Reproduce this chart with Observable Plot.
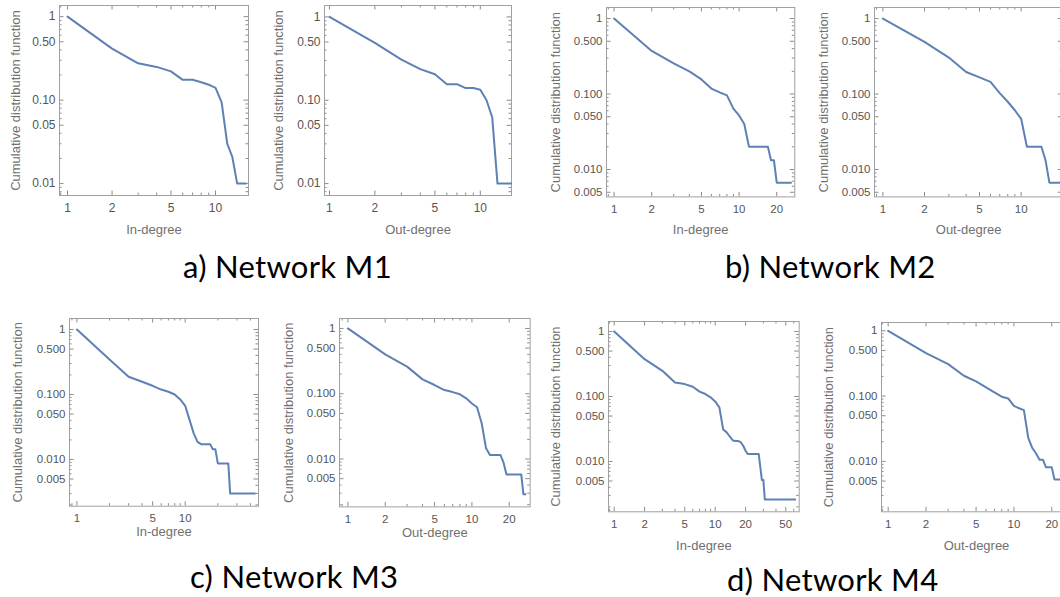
<!DOCTYPE html>
<html>
<head>
<meta charset="utf-8">
<script src="https://cdn.jsdelivr.net/npm/d3@7"></script>
<script src="https://cdn.jsdelivr.net/npm/@observablehq/plot@0.6"></script>
<style>
  html, body { margin: 0; padding: 0; background: #fff; }
  #root { position: relative; width: 1060px; height: 597px; overflow: hidden; background: #fff; }
  #root > svg { position: absolute; overflow: visible; }
  .cap { position: absolute; font-family: Lato, "Open Sans", sans-serif; font-size: 31px; letter-spacing: 0.3px; color: #000; white-space: nowrap; line-height: 1; }
</style>
</head>
<body>
<div id="root"></div>
<script>
// ---------- data ----------
const m1InDeg  = [1, 2, 3, 4, 5, 6, 7, 8, 9, 10, 11, 12, 13, 14, 16];
const m1InCdf  = [1, 0.414, 0.276, 0.25, 0.221, 0.175, 0.175, 0.164, 0.153, 0.14, 0.094, 0.030, 0.0207, 0.010, 0.010];
const m1OutDeg = [1, 2, 3, 4, 5, 6, 7, 8, 9, 10, 11, 12, 13, 16];
const m1OutCdf = [1, 0.487, 0.308, 0.236, 0.205, 0.156, 0.156, 0.14, 0.14, 0.134, 0.10, 0.062, 0.010, 0.010];

const m2InDeg  = [1, 2, 3, 4, 5, 6, 7, 8, 9, 10, 11, 12, 17, 18, 19, 20, 26];
const m2InCdf  = [1, 0.372, 0.254, 0.20, 0.156, 0.118, 0.105, 0.096, 0.064, 0.052, 0.040, 0.020, 0.020, 0.0133, 0.0133, 0.0067, 0.0067];
const m2OutDeg = [1, 2, 3, 4, 5, 6, 7, 8, 9, 10, 11, 14, 15, 16, 19];
const m2OutCdf = [1, 0.49, 0.304, 0.196, 0.166, 0.145, 0.103, 0.079, 0.061, 0.047, 0.020, 0.020, 0.0133, 0.0067, 0.0067];

const m3InDeg  = [1, 2, 3, 4, 5, 6, 7, 8, 9, 10, 11, 12, 13, 14, 17, 18, 19, 20, 25, 26, 44];
const m3InCdf  = [1, 0.346, 0.187, 0.157, 0.136, 0.119, 0.11, 0.10, 0.084, 0.067, 0.040, 0.025, 0.0187, 0.0172, 0.0172, 0.0143, 0.0143, 0.0087, 0.0087, 0.0030, 0.0030];
const m3OutDeg = [1, 2, 3, 4, 5, 6, 7, 8, 9, 10, 11, 12, 13, 14, 17, 18, 19, 25, 26, 27];
const m3OutCdf = [1, 0.40, 0.26, 0.166, 0.136, 0.114, 0.106, 0.098, 0.085, 0.071, 0.062, 0.035, 0.0146, 0.0115, 0.0115, 0.0088, 0.0058, 0.0058, 0.0029, 0.0029];

const m4InDeg  = [1, 2, 3, 4, 5, 6, 7, 8, 9, 10, 11, 12, 13, 14, 15, 16, 17, 18, 19, 20, 21, 27, 28, 29, 30, 31, 62];
const m4InCdf  = [1, 0.375, 0.248, 0.164, 0.155, 0.141, 0.119, 0.109, 0.097, 0.084, 0.068, 0.031, 0.028, 0.024, 0.021, 0.0206, 0.0206, 0.0196, 0.0173, 0.0146, 0.013, 0.013, 0.0081, 0.0052, 0.0052, 0.0026, 0.0026];
const m4OutDeg = [1, 2, 3, 4, 5, 6, 7, 8, 9, 10, 11, 12, 13, 14, 15, 16, 17, 18, 20, 21, 24];
const m4OutCdf = [1, 0.455, 0.309, 0.205, 0.168, 0.136, 0.114, 0.098, 0.092, 0.071, 0.065, 0.061, 0.023, 0.016, 0.0132, 0.0106, 0.0106, 0.0081, 0.0081, 0.0053, 0.0053];

// tick labels
const xTicksA = [1, 2, 5, 10];
const xTicksB = [1, 2, 5, 10, 20];
const xTicksC = [1, 5, 10];
const xTicksD = [1, 2, 5, 10, 20, 50];
const yTicksA = [1, 0.5, 0.1, 0.05, 0.01];
const yLabelsA = ["1", "0.50", "0.10", "0.05", "0.01"];
const yTicksB = [1, 0.5, 0.1, 0.05, 0.01, 0.005];
const yLabelsB = ["1", "0.500", "0.100", "0.050", "0.010", "0.005"];

const yTitle = "Cumulative distribution function";
const captions = ["a) Network M1", "b) Network M2", "c) Network M3", "d) Network M4"];

// ---------- layout per panel ----------
const panels = [
  {deg: m1InDeg,  cdf: m1InCdf,  xl: "In-degree",  frame: [59, 5, 189, 190],      xd: [0.883, 16.7], yd: [0.0072, 1.36], xt: xTicksA, yt: yTicksA, yl: yLabelsA, xOff: 34, yOff: 44, fs: 12},
  {deg: m1OutDeg, cdf: m1OutCdf, xl: "Out-degree", frame: [324.3, 5, 187, 190],   xd: [0.927, 16.1], yd: [0.0072, 1.37], xt: xTicksA, yt: yTicksA, yl: yLabelsA, xOff: 34, yOff: 46, fs: 12},
  {deg: m2InDeg,  cdf: m2InCdf,  xl: "In-degree",  frame: [605.7, 7.3, 188.3, 189.4], xd: [0.87, 27.9], yd: [0.00434, 1.40], xt: xTicksB, yt: yTicksB, yl: yLabelsB, xOff: 33, yOff: 51, fs: 11.5},
  {deg: m2OutDeg, cdf: m2OutCdf, xl: "Out-degree", frame: [874.3, 7.3, 188.3, 189.4], xd: [0.87, 20.0], yd: [0.00434, 1.40], xt: xTicksA, yt: yTicksB, yl: yLabelsB, xOff: 33, yOff: 51, fs: 11.5},
  {deg: m3InDeg,  cdf: m3InCdf,  xl: "In-degree",  frame: [69.3, 318.3, 189, 187.7],  xd: [0.854, 47.5], yd: [0.00191, 1.476], xt: xTicksC, yt: yTicksB, yl: yLabelsB, xOff: 26, yOff: 52, fs: 11.5},
  {deg: m3OutDeg, cdf: m3OutCdf, xl: "Out-degree", frame: [339.3, 318.3, 190.7, 188.4], xd: [0.856, 29.5], yd: [0.00185, 1.42], xt: xTicksB, yt: yTicksB, yl: yLabelsB, xOff: 26, yOff: 51, fs: 11.5},
  {deg: m4InDeg,  cdf: m4InCdf,  xl: "In-degree",  frame: [608.3, 320.7, 190.7, 190.3], xd: [0.878, 67.9], yd: [0.00168, 1.425], xt: xTicksD, yt: yTicksB, yl: yLabelsB, xOff: 34, yOff: 53, fs: 11.5},
  {deg: m4OutDeg, cdf: m4OutCdf, xl: "Out-degree", frame: [881, 321.7, 190, 189.3],   xd: [0.885, 28.7], yd: [0.00169, 1.34], xt: xTicksB, yt: yTicksB, yl: yLabelsB, xOff: 34, yOff: 53, fs: 11.5}
];

const capPos = [
  {x: 183, y: 251}, {x: 725, y: 251}, {x: 190, y: 561}, {x: 727, y: 564}
];

function logTicks(domain) {
  const out = [];
  for (const dec of [0.001, 0.01, 0.1, 1, 10, 100]) {
    for (let k = 1; k <= 9; k++) {
      const v = +(k * dec).toPrecision(3);
      if (v >= domain[0] && v <= domain[1]) out.push(v);
    }
  }
  return out;
}

const root = document.getElementById("root");
const mL = 60, mR = 10, mT = 6, mB = 44;
const blue = "#5E81B5";
const tickColor = "#8c8c8c";
const labelColor = "#555555";
const titleColor = "#707070";

panels.forEach(p => {
  const [fx, fy, fw, fh] = p.frame;
  const data = p.deg.map((d, i) => ({deg: d, cdf: p.cdf[i]}));
  const xMaj = p.xt.filter(v => v >= p.xd[0] && v <= p.xd[1]);
  const xMin = logTicks(p.xd).filter(v => !xMaj.includes(v));
  const yMaj = p.yt;
  const yMin = logTicks(p.yd).filter(v => !yMaj.includes(v));
  const yLab = new Map(p.yt.map((v, i) => [v, p.yl[i]]));
  const majL = 4.5, minL = 2.5;
  const chart = Plot.plot({
    width: mL + fw + mR,
    height: mT + fh + mB,
    marginLeft: mL, marginRight: mR, marginTop: mT, marginBottom: mB,
    style: {fontFamily: "'Liberation Sans', Arial, sans-serif", fontSize: "12px", color: labelColor, background: "transparent", overflow: "visible"},
    x: {type: "log", domain: p.xd, axis: null},
    y: {type: "log", domain: p.yd, axis: null},
    marks: [
      // inward ticks on all four sides
      Plot.ruleX(xMaj, {x: d => d, insetTop: fh - majL, stroke: tickColor}),
      Plot.ruleX(xMin, {x: d => d, insetTop: fh - minL, stroke: tickColor}),
      Plot.ruleX(xMaj, {x: d => d, insetBottom: fh - majL, stroke: tickColor}),
      Plot.ruleX(xMin, {x: d => d, insetBottom: fh - minL, stroke: tickColor}),
      Plot.ruleY(yMaj, {y: d => d, insetRight: fw - majL, stroke: tickColor}),
      Plot.ruleY(yMin, {y: d => d, insetRight: fw - minL, stroke: tickColor}),
      Plot.ruleY(yMaj, {y: d => d, insetLeft: fw - majL, stroke: tickColor}),
      Plot.ruleY(yMin, {y: d => d, insetLeft: fw - minL, stroke: tickColor}),
      Plot.frame({stroke: "#a0a0a0", strokeWidth: 1}),
      // tick labels
      Plot.text(xMaj, {x: d => d, frameAnchor: "bottom", dy: 12.5, text: d => String(d), textAnchor: "middle", lineAnchor: "middle", fontSize: p.fs, fill: labelColor}),
      Plot.text(yMaj, {y: d => d, frameAnchor: "left", dx: -4, text: d => yLab.get(d), textAnchor: "end", lineAnchor: "middle", fontSize: p.fs, fill: labelColor}),
      // axis titles
      Plot.text([p.xl], {frameAnchor: "bottom", dy: p.xOff, text: d => d, textAnchor: "middle", lineAnchor: "middle", fontSize: 13, fill: titleColor}),
      Plot.text([yTitle], {frameAnchor: "left", dx: -p.yOff, rotate: -90, text: d => d, textAnchor: "middle", lineAnchor: "middle", fontSize: 13, fill: titleColor}),
      Plot.line(data, {x: "deg", y: "cdf", stroke: blue, strokeWidth: 2, strokeLinejoin: "round"})
    ]
  });
  chart.style.left = (fx - mL) + "px";
  chart.style.top = (fy - mT) + "px";
  root.appendChild(chart);
});

captions.forEach((c, i) => {
  const d = document.createElement("div");
  d.className = "cap";
  d.textContent = c;
  d.style.left = capPos[i].x + "px";
  d.style.top = capPos[i].y + "px";
  root.appendChild(d);
});
</script>
</body>
</html>
